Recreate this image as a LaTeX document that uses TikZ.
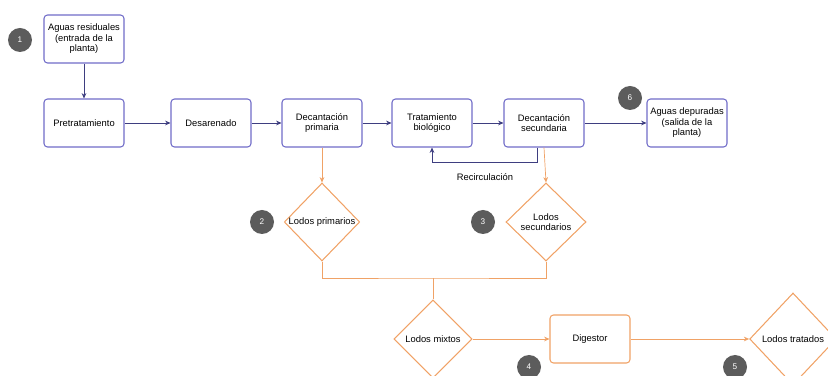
\documentclass[tikz,border=0pt]{standalone}
\usepackage{fontspec}
\setmainfont{Liberation Sans}
\usetikzlibrary{arrows.meta, positioning, shapes.geometric}
\definecolor{plantblue}{RGB}{112, 108, 200}
\definecolor{plantnavy}{RGB}{62, 62, 128}
\definecolor{sludgeorange}{RGB}{240, 162, 102}
\definecolor{badgegray}{RGB}{92, 92, 92}

\begin{document}
\begin{tikzpicture}[x=0.03cm, y=-0.03cm,
      proc/.style={rectangle, rounded corners=3pt, draw=plantblue, line width=0.9pt, minimum width=2.4cm, minimum height=1.44cm, align=center, inner sep=1pt, font=\fontsize{8}{9}\selectfont},
      digbox/.style={proc, draw=sludgeorange},
      sludge/.style={diamond, draw=sludgeorange, line width=0.9pt, inner sep=0pt, aspect=1, align=center, font=\fontsize{8}{9}\selectfont},
      badge/.style={circle, fill=badgegray, text=white, minimum size=0.72cm, inner sep=0pt, font=\fontsize{7}{8}\selectfont},
      arr/.style={-{Stealth[length=1.6mm, width=1.4mm]}, line width=0.6pt, plantnavy},
      slarr/.style={-{Stealth[length=1.6mm, width=1.4mm]}, line width=0.6pt, sludgeorange},
      sl/.style={line width=0.6pt, sludgeorange}
    ]
      \useasboundingbox (0,0) rectangle (828,376);
      \clip (0,0) rectangle (828,376);

      % water line
      \node[proc] (aguasres) at (84,39) {Aguas residuales\\(entrada de la\\planta)};
      \node[proc] (pretrat) at (84,123) {Pretratamiento};
      \node[proc] (desaren) at (211,123) {Desarenado};
      \node[proc] (decprim) at (322,123) {Decantación\\primaria};
      \node[proc] (tratbio) at (432,123) {Tratamiento\\biológico};
      \node[proc] (decsec) at (544,123) {Decantación\\secundaria};
      \node[proc] (aguasdep) at (687,123) {Aguas depuradas\\(salida de la\\planta)};

      % sludge line
      \node[sludge, minimum width=2.2cm, minimum height=2.34cm] (lprim) at (322,222) {Lodos primarios};
      \node[sludge, minimum width=2.4cm, minimum height=2.34cm] (lsec) at (546,222) {Lodos\\secundarios};
      \node[sludge, minimum width=2.34cm, minimum height=2.34cm] (lmixtos) at (433,339) {Lodos mixtos};
      \node[digbox] (digestor) at (590,339) {Digestor};
      \node[sludge, minimum width=2.6cm, minimum height=2.76cm] (ltratados) at (793,339) {Lodos tratados};
      \coordinate (junc) at (433,278);

      % step numbers
      \node[badge] (b1) at (20,40) {1};
      \node[badge] (b2) at (262,222) {2};
      \node[badge] (b3) at (483,222) {3};
      \node[badge] (b4) at (529,367) {4};
      \node[badge] (b5) at (735,367) {5};
      \node[badge] (b6) at (630,98) {6};

      \draw[arr] (aguasres) -- (pretrat);
      \draw[arr] (pretrat) -- (desaren);
      \draw[arr] (desaren) -- (decprim);
      \draw[arr] (decprim) -- (tratbio);
      \draw[arr] (tratbio) -- (decsec);
      \draw[arr] (decsec) -- (aguasdep);
      \draw[arr] ([xshift=-0.21cm]decsec.south) -- ++(0,15) -| (tratbio.south);
      \node[font=\fontsize{8}{9}\selectfont] (recirc) at (485,177) {Recirculación};

      \draw[slarr] (decprim.south) -- (lprim.north);
      \draw[slarr] (decsec.south) -- (lsec.north);
      \draw[sl] (lprim.south) |- (junc) -| (lsec.south);
      \draw[sl] (junc) -- (lmixtos.north);
      \draw[slarr] (lmixtos.east) -- (digestor.west);
      \draw[slarr] (digestor.east) -- (ltratados.west);
    \end{tikzpicture}
\end{document}
